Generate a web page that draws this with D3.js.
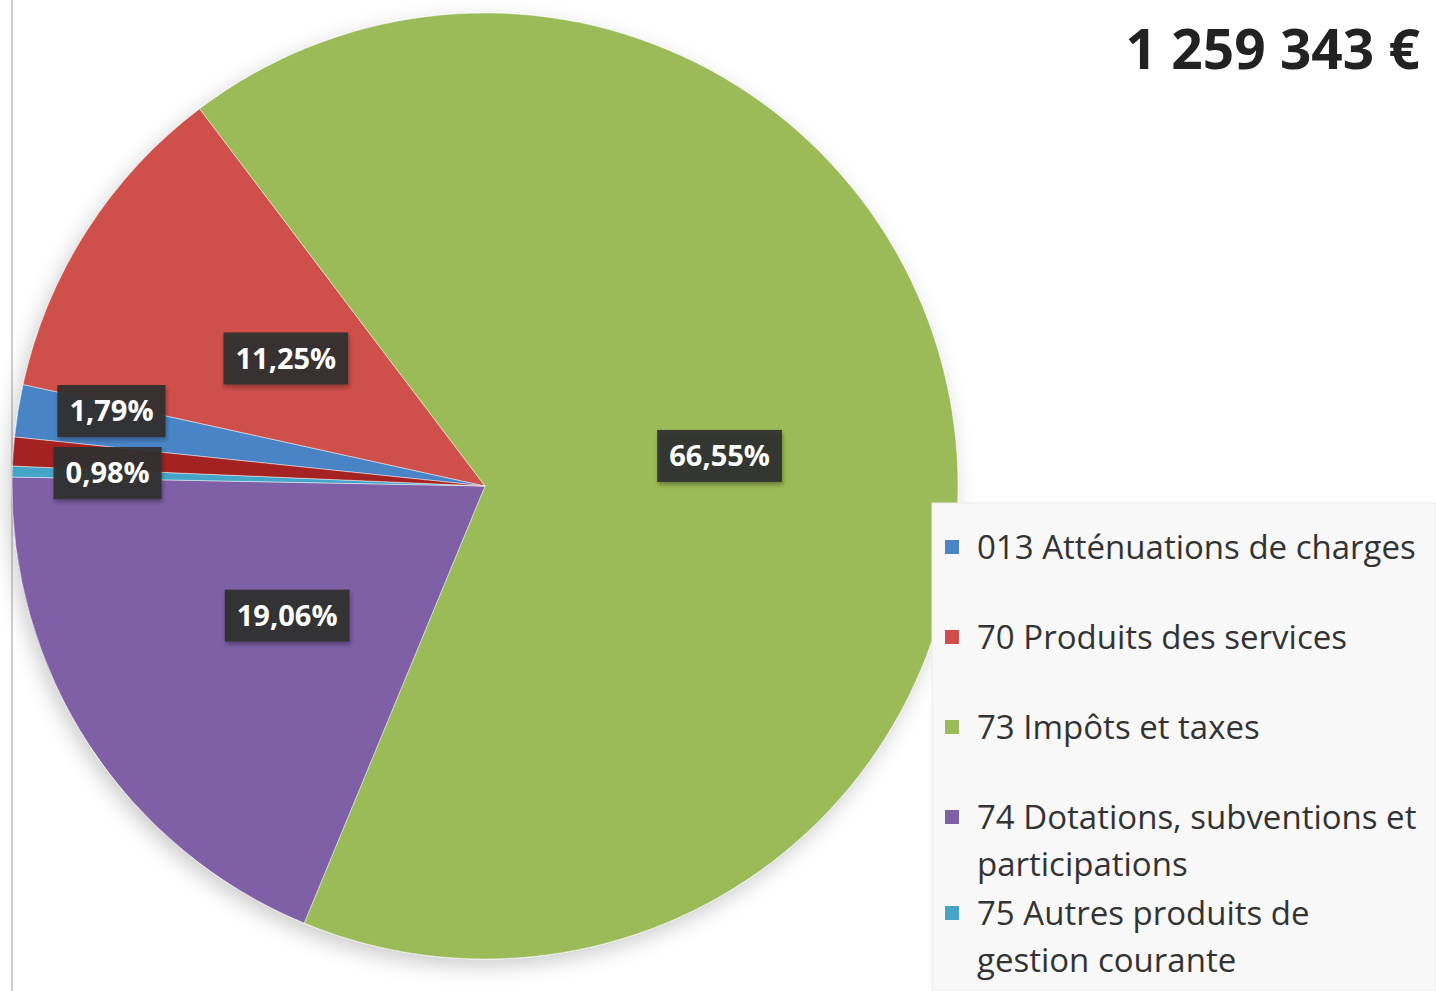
<!DOCTYPE html>
<html>
<head>
<meta charset="utf-8">
<script src="https://cdn.jsdelivr.net/npm/d3@7"></script>
<style>
  body { margin: 0; background: #fff; }
  svg { display: block; }
</style>
</head>
<body>
<script>
// recettes de fonctionnement, part de chaque chapitre
const categories = [
  '013 Atténuations de charges',
  '70 Produits des services',
  '73 Impôts et taxes',
  '74 Dotations, subventions et participations',
  '75 Autres produits de gestion courante',
  '77 Produits exceptionnels'
]
const values = [1.79, 11.25, 66.55, 19.06, 0.37, 0.98]
const labels = ['1,79%', '11,25%', '66,55%', '19,06%', '', '0,98%']
const colors = ['#4a84c6', '#cf4f4b', '#9bbb59', '#7f5fa6', '#45a5c8', '#a52424']
const legendLines = [
  ['013 Atténuations de charges'],
  ['70 Produits des services'],
  ['73 Impôts et taxes'],
  ['74 Dotations, subventions et', 'participations'],
  ['75 Autres produits de', 'gestion courante'],
  ['77 Produits exceptionnels']
]
const total = '1 259 343 €'

const width = 1436
const height = 991
const cx = 485, cy = 486, radius = 473

const svg = d3.select('body').append('svg').attr('width', width).attr('height', height)

const defs = svg.append('defs')
const shadow = defs.append('filter').attr('id', 'pieShadow')
  .attr('x', '-20%').attr('y', '-20%').attr('width', '140%').attr('height', '140%')
shadow.append('feDropShadow').attr('dx', -4).attr('dy', 7).attr('stdDeviation', 10)
  .attr('flood-color', '#000').attr('flood-opacity', 0.2)
const boxShadow = defs.append('filter').attr('id', 'boxShadow')
  .attr('x', '-20%').attr('y', '-20%').attr('width', '140%').attr('height', '150%')
boxShadow.append('feDropShadow').attr('dx', 1).attr('dy', 3).attr('stdDeviation', 2)
  .attr('flood-color', '#000').attr('flood-opacity', 0.35)

// left frame line
svg.append('line').attr('x1', 12).attr('x2', 12).attr('y1', 0).attr('y2', height)
  .attr('stroke', '#cfcfcf').attr('stroke-width', 2)

// total amount
svg.append('text').attr('x', 1420).attr('y', 69).attr('text-anchor', 'end')
  .style('font-family', 'Open Sans').style('font-weight', 700).style('font-size', '55px')
  .attr('fill', '#222').text(total)

// pie
const startAngle = -84.05 * Math.PI / 180
const pie = d3.pie().sort(null).startAngle(startAngle).endAngle(startAngle + 2 * Math.PI)
const arcs = pie(values)
const arc = d3.arc().innerRadius(0).outerRadius(radius)

const pieGroup = svg.append('g').attr('transform', 'translate(' + cx + ',' + cy + ')')
pieGroup.append('g').attr('filter', 'url(#pieShadow)')
  .selectAll('path')
  .data(arcs)
  .enter().append('path')
    .attr('d', arc)
    .attr('fill', (d, i) => colors[i])
    .attr('stroke', 'rgba(255,255,255,0.45)')
    .attr('stroke-width', 1)

// data labels: centroid for big slices, further out for thin ones
const labelFont = 29
const labelData = arcs.map((d, i) => {
  const r = values[i] < 5 ? radius * 0.8 : radius * 0.5
  const a = (d.startAngle + d.endAngle) / 2
  return { text: labels[i], x: r * Math.sin(a), y: -r * Math.cos(a), small: values[i] < 5 }
}).filter(d => d.text !== '')

const boxH = 52
// push overlapping small labels apart
const smalls = labelData.filter(d => d.small).sort((a, b) => a.y - b.y)
for (let k = 1; k < smalls.length; k++) {
  const gap = smalls[k].y - smalls[k - 1].y
  if (gap < boxH + 10) {
    const push = (boxH + 10 - gap) / 2
    smalls[k - 1].y -= push
    smalls[k].y += push
  }
}

const labelGroups = pieGroup.selectAll('g.lbl')
  .data(labelData)
  .enter().append('g').attr('class', 'lbl')
  .attr('transform', d => 'translate(' + d.x + ',' + d.y + ')')

const labelTexts = labelGroups.append('text')
  .attr('text-anchor', 'middle').attr('dy', '0.36em')
  .style('font-family', 'Open Sans').style('font-weight', 700).style('font-size', labelFont + 'px')
  .attr('fill', '#fff')
  .text(d => d.text)

labelTexts.each(function (d) { d.w = this.getComputedTextLength() })
labelGroups.insert('rect', 'text')
  .attr('x', d => -d.w / 2 - 12).attr('y', -boxH / 2)
  .attr('width', d => d.w + 24).attr('height', boxH)
  .attr('fill', '#2f2f2f').attr('fill-opacity', 0.93)
  .attr('filter', 'url(#boxShadow)')

// legend (only the items that fit in the frame are visible)
const legend = svg.append('g')
legend.append('rect').attr('x', 932).attr('y', 503).attr('width', width - 932).attr('height', height - 503)
  .attr('fill', '#f8f8f8').attr('stroke', '#ebebeb')

const lineH = 47
let yPos = 547
categories.forEach((c, i) => {
  const lines = legendLines[i]
  if (yPos + (lines.length - 1) * lineH + 16 > height) return
  const g = legend.append('g').attr('transform', 'translate(0,' + yPos + ')')
  g.append('rect').attr('x', 945).attr('y', -7).attr('width', 14).attr('height', 14).attr('fill', colors[i])
  lines.forEach((line, j) => {
    g.append('text').attr('x', 977).attr('y', j * lineH).attr('dy', '0.36em')
      .style('font-family', 'Open Sans').style('font-size', '33px')
      .attr('fill', '#333').text(line)
  })
  yPos += Math.max(90, lines.length * 48)
})
</script>
</body>
</html>
